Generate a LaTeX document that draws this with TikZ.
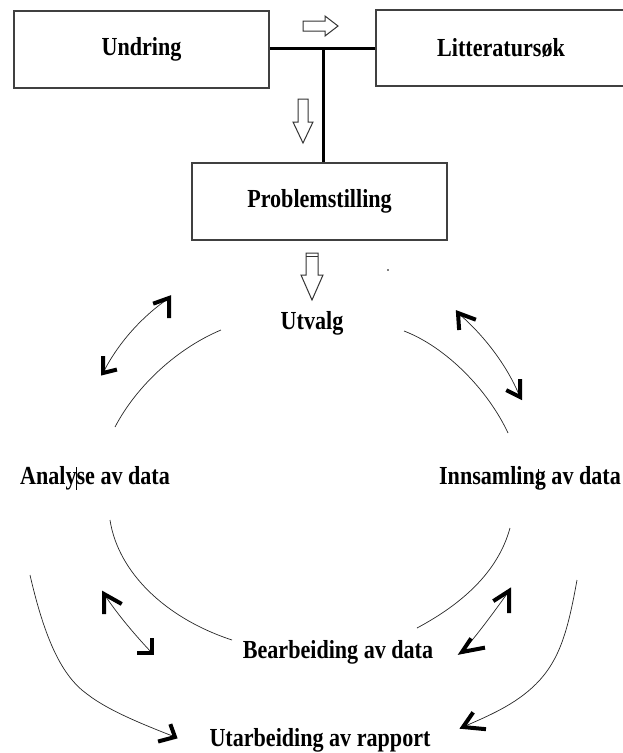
\documentclass[tikz,border=0pt]{standalone}
\usepackage{fontspec}
\setmainfont{Liberation Serif}[FakeStretch=0.85]
\begin{document}
\begin{tikzpicture}[x=1pt,y=-1pt,
  lbl/.style={font=\bfseries\fontsize{26}{30}\selectfont, text=black, inner sep=0pt},
  box/.style={lbl, draw=black!75, line width=1.2pt, minimum width=255pt, minimum height=77pt},
  joint/.style={line width=3pt, black},
  arc/.style={line width=0.7pt, black!85},
  hollow/.style={draw=black!80, line width=1pt, fill=white, line join=miter},
  link/.style={line width=0.7pt, black!85},
  barbstroke/.style={line width=4pt, black, line join=miter, line cap=rect}
]
\path[use as bounding box] (0,0) rectangle (622,753);

% process boxes
\node[box] (und) at (141.5,49.5) {Undring};
\node[box, minimum width=250pt, minimum height=76pt] (lit) at (501,48) {Litteratursøk};
\node[box] (prob) at (319.5,201.5) {Problemstilling};

% T-junction joining the first two boxes and the problem box
\coordinate (tee) at (323,48);
\draw[joint] ([yshift=1.5pt]und.east) -- (lit.west);
\draw[joint] (tee) -- (tee |- prob.north);

% hollow block arrows
\draw[hollow] (303,21) -- (325,21) -- (325,16) -- (338,26) -- (325,36) -- (325,31) -- (303,31) -- cycle;
\draw[hollow] (298,99) -- (308,99) -- (308,122) -- (313,122) -- (303,143) -- (293,122) -- (298,122) -- cycle;
\draw[hollow] (306,253) -- (318,253) -- (318,275) -- (323,275) -- (312,300) -- (301,275) -- (306,275) -- cycle;
\draw[black!80, line width=1pt] (306,256.5) -- (318,256.5);
\fill[black] (388,270) circle (0.8);

% cycle stages
\node[lbl] (utv) at (312,323) {Utvalg};
\node[lbl] (inn) at (530,478) {Innsamling av data};
\node[lbl] (ana) at (95,478) {Analyse av data};
\node[lbl] (bea) at (338,652) {Bearbeiding av data};
\node[lbl] (rap) at (320,740) {Utarbeiding av rapport};

% text cursor marks
\draw[black, line width=0.6pt] (76,467) -- (76,490);
\draw[black, line width=0.6pt] (538,469) -- (538,489);

% arcs of the cycle
\coordinate (a1s) at (221,330); \coordinate (a1e) at (115,427);
\coordinate (a2s) at (404,331); \coordinate (a2e) at (508,433);
\coordinate (a3s) at (110,520); \coordinate (a3e) at (232,640);
\coordinate (a4s) at (510,528); \coordinate (a4e) at (417,628);
\draw[arc] (a1s) .. controls (178,348) and (137,385) .. (a1e);
\draw[arc] (a2s) .. controls (446,347) and (488,390) .. (a2e);
\draw[arc] (a3s) .. controls (118,572) and (165,618) .. (a3e);
\draw[arc] (a4s) .. controls (498,572) and (462,604) .. (a4e);

% two-way arrows between neighbouring stages
\coordinate (d1a) at (103,373); \coordinate (d1b) at (169,298);
\coordinate (d2a) at (458,313); \coordinate (d2b) at (520,397);
\coordinate (d3a) at (104,594); \coordinate (d3b) at (152,653);
\coordinate (d4a) at (509,591); \coordinate (d4b) at (462,652);
\draw[link] (d1a) .. controls (117,345) and (140,318) .. (d1b);
\draw[link] (d2a) .. controls (478,330) and (505,360) .. (d2b);
\draw[link] (d3a) .. controls (118,615) and (135,635) .. (d3b);
\draw[link] (d4a) .. controls (494,612) and (478,634) .. (d4b);

% outer arrows leading to the report
\coordinate (o1s) at (30,575); \coordinate (o1m) at (87,694); \coordinate (o1e) at (175,737);
\coordinate (o2s) at (577,580); \coordinate (o2m) at (536,684); \coordinate (o2e) at (463,727);
\draw[link] (o1s) .. controls (45,640) and (62,676) .. (o1m)
  .. controls (110,712) and (150,727) .. (o1e);
\draw[link] (o2s) .. controls (568,630) and (560,660) .. (o2m)
  .. controls (515,705) and (488,716) .. (o2e);

% heavy hand-drawn arrowheads
\draw[barbstroke] (155,303) -- (d1b) -- (169,316);
\draw[barbstroke] (103,358) -- (d1a) -- (115,370);
\draw[barbstroke] (474,319) -- (d2a) -- (459,328);
\draw[barbstroke] (520,381) -- (d2b) -- (508,391);
\draw[barbstroke] (104,612) -- (d3a) -- (120,603);
\draw[barbstroke] (139,653) -- (d3b) -- (152,640);
\draw[barbstroke] (509,611) -- (d4a) -- (495,600);
\draw[barbstroke] (483,648) -- (d4b) -- (470,640);
\draw[barbstroke] (160,741) -- (o1e) -- (171,726);
\draw[barbstroke] (484,729) -- (o2e) -- (472,714);
\end{tikzpicture}
\end{document}
